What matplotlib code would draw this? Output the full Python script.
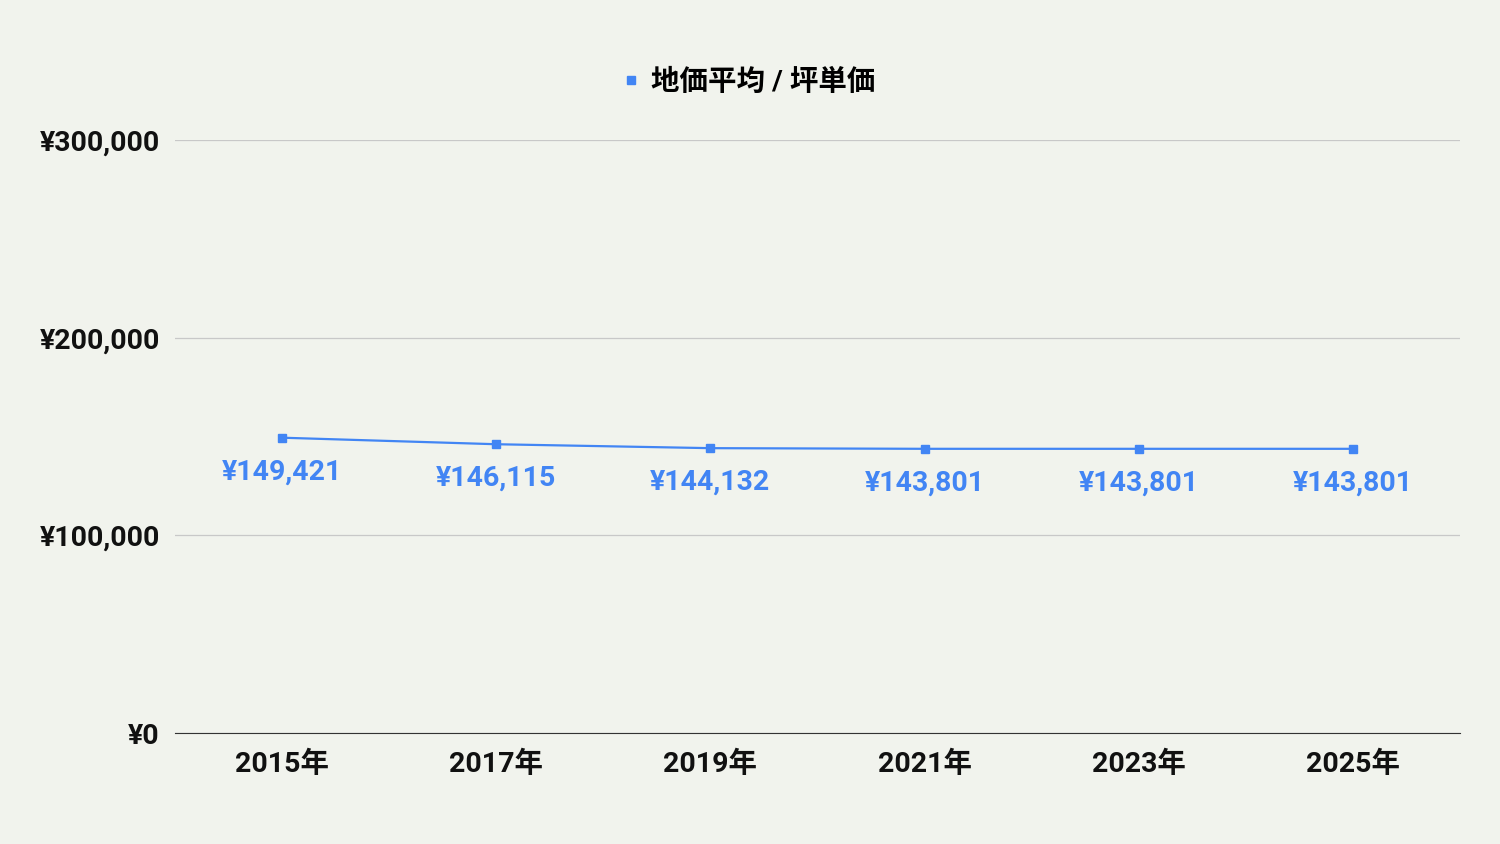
import matplotlib
matplotlib.use('Agg')
import matplotlib.pyplot as plt

years = ['2015年', '2017年', '2019年', '2021年', '2023年', '2025年']
price = [149421, 146115, 144132, 143801, 143801, 143801]
yticks = [0, 100000, 200000, 300000]

bg = '#f1f3ed'
blue = '#4285f4'
fam = ['Roboto', 'Noto Sans CJK JP', 'DejaVu Sans']
plt.rcParams['font.family'] = fam

fig = plt.figure(figsize=(15, 8.44), dpi=100, facecolor=bg)
ax = fig.add_axes([0.1167, 0.1315, 0.8566, 0.7025])
ax.set_facecolor(bg)

x = list(range(len(years)))
ax.plot(x, price, color=blue, lw=1.6, marker='s', ms=6, label='地価平均 / 坪単価')
for xi, v in zip(x, price):
    ax.annotate('¥{:,}'.format(v), (xi, v), xytext=(0, -24.5), textcoords='offset points',
                ha='center', va='center', fontsize=20.5, fontweight='bold', color=blue)

ax.set_xlim(-0.5, len(years) - 0.5)
ax.set_ylim(0, 300000)
ax.set_yticks(yticks)
ax.set_yticklabels(['¥{:,}'.format(t) for t in yticks])
ax.set_xticks(x)
ax.set_xticklabels(years)
ax.grid(axis='y', color='#c8c8c8', lw=0.9)
ax.set_axisbelow(True)
for s in ['top', 'right', 'left']:
    ax.spines[s].set_visible(False)
ax.spines['bottom'].set_color('#333333')
ax.tick_params(axis='both', length=0, labelsize=20.5)
ax.tick_params(axis='y', pad=11)
ax.tick_params(axis='x', pad=13)
for lab in ax.get_xticklabels() + ax.get_yticklabels():
    lab.set_fontweight('bold')
    lab.set_color('#111111')

h, l = ax.get_legend_handles_labels()
leg = fig.legend(h, l, loc='center', bbox_to_anchor=(0.5, 0.902), frameon=False,
                 prop={'family': fam, 'weight': 'bold', 'size': 20.5},
                 handlelength=0.4, handletextpad=0.5)
for hd in leg.legend_handles:
    hd.set_linestyle('None')
    hd.set_markersize(6)

fig.savefig('out.png', dpi=100, facecolor=bg)
